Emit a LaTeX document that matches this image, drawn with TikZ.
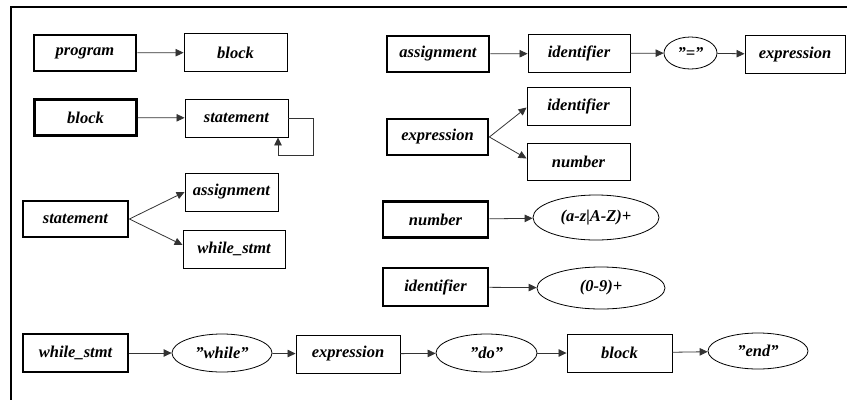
\documentclass[tikz,border=0pt]{standalone}
\usepackage{fontspec}
\setmainfont{Liberation Serif}
\usetikzlibrary{shapes.geometric,arrows.meta,calc}
\newcommand{\dq}{\symbol{34}}
\begin{document}
\begin{tikzpicture}[x=1pt,y=-1pt,
  lbl/.style={font=\bfseries\itshape\fontsize{16.5}{19}\selectfont, inner sep=0pt},
  box/.style={lbl, draw=black, line width=0.9pt, rectangle, minimum width=#1, minimum height=38pt},
  box/.default=103pt,
  tbox/.style={lbl, draw=black, line width=2.8pt, rectangle, minimum width=#1, minimum height=36pt},
  tbox/.default=102pt,
  ell/.style={lbl, draw=black, line width=0.8pt, ellipse, minimum width=#1, minimum height=38pt},
  ell/.default=100pt,
  arr/.style={draw=black!80, line width=0.8pt, -{Triangle[length=8pt,width=7.5pt]}}
]
\useasboundingbox (0,0) rectangle (847,400);
% frame
\draw[line width=2.5pt] (847,7) -- (11,7) -- (11,400);

% row 1
\node[tbox] (prog) at (85,53) {program};
\node[box] (blk1) at (235.5,52.5) {block};
\draw[arr] (prog) -- (blk1);

% row 2
\node[tbox] (blk2) at (85.5,117.5) {block};
\node[box] (stmt1) at (236.5,118) {statement};
\draw[arr] (blk2) -- (stmt1);
\coordinate (lp) at (313,155);
\draw[arr] (stmt1.east) -| (lp) -| ($(stmt1.south)+(41.5,0)$);

% row 3
\node[tbox=105pt] (stmt2) at (75.5,219) {statement};
\node[box=93pt] (asg1) at (231.5,192) {assignment};
\node[box=102pt] (whl1) at (234,249) {while\_stmt};
\draw[arr] (stmt2.east) -- (asg1.west);
\draw[arr] (stmt2.east) -- ($(whl1.west)+(0,-4)$);

% assignment
\node[tbox] (asg2) at (438,54) {assignment};
\node[box=102pt] (id1) at (579,53.5) {identifier};
\node[ell=53pt, minimum height=32pt] (eq) at (690.5,53) {\dq=\dq};
\node[box=100pt] (exp1) at (795,54.5) {expression};
\draw[arr] (asg2) -- (id1);
\draw[arr] (id1) -- (eq);
\draw[arr] (eq) -- (exp1);

% expression
\node[tbox=101pt] (exp2) at (437.5,137) {expression};
\node[box] (id2) at (578.5,106.5) {identifier};
\node[box, minimum height=37pt] (num1) at (578.5,161.5) {number};
\draw[arr] (exp2.east) -- ($(id2.west)+(0,1)$);
\draw[arr] (exp2.east) -- ($(num1.west)+(0,-3)$);

% number
\node[tbox=105pt] (num2) at (435.5,219.5) {number};
\node[ell=126pt, minimum height=45pt] (el1) at (596,217.5) {(a-z|A-Z)+};
\draw[arr] (num2) -- (el1);

% identifier
\node[tbox=105pt, minimum height=38pt] (id3) at (435.5,287) {identifier};
\node[ell=128pt, minimum height=42pt] (el2) at (601,288) {(0-9)+};
\draw[arr] (id3) -- (el2);

% while row
\node[tbox=105pt, minimum height=38pt] (ws) at (75.5,353) {while\_stmt};
\node[ell] (wh) at (222,353) {\dq while\dq};
\node[box=104pt] (exp3) at (348,354) {expression};
\node[ell=101pt] (do) at (486.5,353) {\dq do\dq};
\node[box=105pt] (blk3) at (619.5,353) {block};
\node[ell, minimum height=36pt] (end) at (758,351) {\dq end\dq};
\draw[arr] (ws) -- (wh);
\draw[arr] (wh) -- (exp3);
\draw[arr] (exp3) -- (do);
\draw[arr] (do) -- (blk3);
\draw[arr] (blk3) -- (end);
\end{tikzpicture}
\end{document}
